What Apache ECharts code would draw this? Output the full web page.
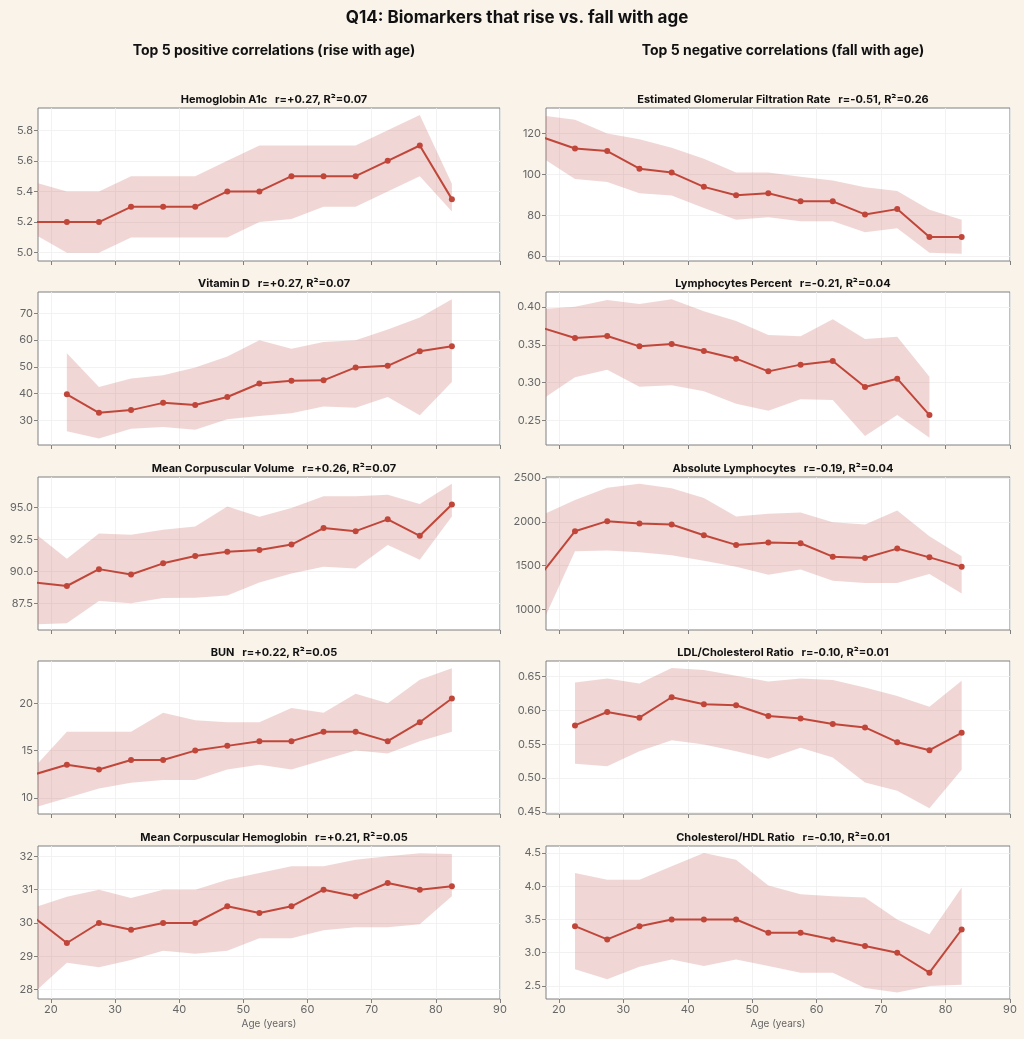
<!DOCTYPE html>
<html>
<head>
<meta charset="utf-8">
<script src="https://cdn.jsdelivr.net/npm/echarts@6/dist/echarts.min.js"></script>
<style>
  html, body { margin: 0; padding: 0; background: #f9f3ea; }
  #main { width: 1024px; height: 1039px; }
</style>
</head>
<body>
<div id="main"></div>
<script>
// age bin centres (first bin sits left of the axis and gets clipped)
const agesFull = [17.5, 22.5, 27.5, 32.5, 37.5, 42.5, 47.5, 52.5, 57.5, 62.5, 67.5, 72.5, 77.5, 82.5];
const agesFrom22 = [22.5, 27.5, 32.5, 37.5, 42.5, 47.5, 52.5, 57.5, 62.5, 67.5, 72.5, 77.5, 82.5];
const agesTo77 = [17.5, 22.5, 27.5, 32.5, 37.5, 42.5, 47.5, 52.5, 57.5, 62.5, 67.5, 72.5, 77.5];
const ageTicks = [20, 30, 40, 50, 60, 70, 80, 90];

// positive correlations
const hba1cMean = [5.2, 5.2, 5.2, 5.3, 5.3, 5.3, 5.4, 5.4, 5.5, 5.5, 5.5, 5.6, 5.7, 5.35];
const hba1cLow = [5.12, 5.0, 5.0, 5.1, 5.1, 5.1, 5.1, 5.2, 5.22, 5.3, 5.3, 5.4, 5.5, 5.27];
const hba1cHigh = [5.46, 5.4, 5.4, 5.5, 5.5, 5.5, 5.6, 5.7, 5.7, 5.7, 5.7, 5.8, 5.9, 5.45];

const vitdMean = [39.8, 32.9, 33.9, 36.6, 35.8, 38.8, 43.8, 44.8, 45.0, 49.8, 50.4, 55.8, 57.7];
const vitdLow = [26.0, 23.3, 27.0, 27.6, 26.6, 30.5, 31.7, 32.7, 35.2, 34.8, 38.8, 32.0, 44.4];
const vitdHigh = [55.1, 42.5, 45.7, 46.9, 49.8, 53.9, 59.9, 56.8, 59.3, 59.9, 63.9, 68.4, 75.2];

const mcvMean = [89.15, 88.88, 90.19, 89.77, 90.64, 91.21, 91.55, 91.68, 92.10, 93.38, 93.14, 94.06, 92.78, 95.21];
const mcvLow = [85.9, 85.98, 87.71, 87.53, 87.94, 87.97, 88.15, 89.15, 89.85, 90.37, 90.24, 92.07, 90.92, 94.29];
const mcvHigh = [92.98, 91.0, 92.96, 92.86, 93.25, 93.51, 95.05, 94.27, 94.95, 95.86, 95.86, 95.97, 95.26, 96.83];

const bunMean = [12.5, 13.5, 13.0, 14.0, 14.0, 15.0, 15.5, 16.0, 16.0, 17.0, 17.0, 16.0, 18.0, 20.5];
const bunLow = [9.0, 10.0, 11.0, 11.6, 11.9, 11.9, 13.0, 13.5, 13.0, 14.0, 15.0, 14.7, 16.0, 17.0];
const bunHigh = [13.3, 17.0, 17.0, 17.0, 19.0, 18.2, 18.0, 18.0, 19.5, 19.0, 21.0, 20.0, 22.5, 23.7];

const mchMean = [30.15, 29.4, 30.0, 29.8, 30.0, 30.0, 30.5, 30.3, 30.5, 31.0, 30.8, 31.2, 31.0, 31.1];
const mchLow = [27.93, 28.81, 28.67, 28.89, 29.17, 29.08, 29.17, 29.54, 29.54, 29.78, 29.87, 29.87, 29.96, 30.80];
const mchHigh = [30.47, 30.79, 31.0, 30.75, 31.0, 31.0, 31.3, 31.5, 31.7, 31.7, 31.9, 32.0, 32.09, 32.07];

// negative correlations
const egfrMean = [118.1, 112.7, 111.4, 102.8, 100.9, 93.9, 89.8, 90.8, 86.8, 86.8, 80.4, 83.0, 69.4, 69.4];
const egfrLow = [108.0, 97.8, 96.3, 90.8, 89.7, 83.5, 77.8, 79.0, 77.0, 77.0, 71.7, 73.6, 61.6, 61.1];
const egfrHigh = [128.8, 126.8, 120.0, 117.2, 113.0, 107.7, 100.9, 100.9, 98.9, 97.0, 93.7, 91.9, 82.7, 77.8];

const lymphPctMean = [0.372, 0.359, 0.3616, 0.3479, 0.351, 0.3418, 0.3316, 0.3148, 0.3237, 0.3285, 0.2941, 0.3051, 0.257];
const lymphPctLow = [0.2785, 0.3069, 0.3171, 0.2946, 0.2963, 0.2884, 0.2721, 0.2628, 0.2778, 0.2769, 0.2293, 0.2571, 0.2271];
const lymphPctHigh = [0.3975, 0.4004, 0.4092, 0.4039, 0.4101, 0.3942, 0.3815, 0.3629, 0.3612, 0.3837, 0.3576, 0.3607, 0.3078];

const lymphAbsMean = [1426, 1893, 2008, 1981, 1970, 1847, 1737, 1763, 1756, 1603, 1588, 1695, 1595, 1489];
const lymphAbsLow = [858, 1664, 1672, 1653, 1618, 1557, 1489, 1397, 1458, 1328, 1302, 1302, 1405, 1183];
const lymphAbsHigh = [2082, 2248, 2389, 2435, 2382, 2271, 2061, 2092, 2107, 1996, 1970, 2130, 1836, 1607];

const ldlRatioMean = [0.5777, 0.5975, 0.5891, 0.6193, 0.6089, 0.6074, 0.5916, 0.5881, 0.5797, 0.5748, 0.553, 0.5411, 0.5668];
const ldlRatioLow = [0.5213, 0.5173, 0.5396, 0.5559, 0.5495, 0.5396, 0.5287, 0.5446, 0.5302, 0.4936, 0.4812, 0.4554, 0.5124];
const ldlRatioHigh = [0.6411, 0.647, 0.6396, 0.6624, 0.6594, 0.651, 0.6426, 0.647, 0.6446, 0.6337, 0.6213, 0.6054, 0.6436];

const hdlRatioMean = [3.4, 3.2, 3.4, 3.5, 3.5, 3.5, 3.3, 3.3, 3.2, 3.1, 3.0, 2.7, 3.35];
const hdlRatioLow = [2.75, 2.6, 2.79, 2.9, 2.8, 2.9, 2.8, 2.7, 2.7, 2.47, 2.4, 2.5, 2.52];
const hdlRatioHigh = [4.2, 4.1, 4.1, 4.3, 4.5, 4.4, 4.01, 3.88, 3.85, 3.83, 3.5, 3.28, 3.98];

// y tick labels per panel
const hba1cTicks = [5.0, 5.2, 5.4, 5.6, 5.8];
const vitdTicks = [30, 40, 50, 60, 70];
const mcvTicks = [87.5, 90.0, 92.5, 95.0];
const bunTicks = [10, 15, 20];
const mchTicks = [28, 29, 30, 31, 32];
const egfrTicks = [60, 80, 100, 120];
const lymphPctTicks = [0.25, 0.30, 0.35, 0.40];
const lymphAbsTicks = [1000, 1500, 2000, 2500];
const ldlRatioTicks = [0.45, 0.50, 0.55, 0.60, 0.65];
const hdlRatioTicks = [2.5, 3.0, 3.5, 4.0, 4.5];

const panels = [
  { title: "Hemoglobin A1c   r=+0.27, R\u00b2=0.07", x: agesFull, mean: hba1cMean, low: hba1cLow, high: hba1cHigh, ticks: hba1cTicks, dec: 1, min: 4.946, max: 5.945 },
  { title: "Vitamin D   r=+0.27, R\u00b2=0.07", x: agesFrom22, mean: vitdMean, low: vitdLow, high: vitdHigh, ticks: vitdTicks, dec: 0, min: 20.9, max: 77.9 },
  { title: "Mean Corpuscular Volume   r=+0.26, R\u00b2=0.07", x: agesFull, mean: mcvMean, low: mcvLow, high: mcvHigh, ticks: mcvTicks, dec: 1, min: 85.46, max: 97.35 },
  { title: "BUN   r=+0.22, R\u00b2=0.05", x: agesFull, mean: bunMean, low: bunLow, high: bunHigh, ticks: bunTicks, dec: 0, min: 8.3, max: 24.47 },
  { title: "Mean Corpuscular Hemoglobin   r=+0.21, R\u00b2=0.05", x: agesFull, mean: mchMean, low: mchLow, high: mchHigh, ticks: mchTicks, dec: 0, min: 27.72, max: 32.31 },
  { title: "Estimated Glomerular Filtration Rate   r=-0.51, R\u00b2=0.26", x: agesFull, mean: egfrMean, low: egfrLow, high: egfrHigh, ticks: egfrTicks, dec: 0, min: 57.6, max: 132.5 },
  { title: "Lymphocytes Percent   r=-0.21, R\u00b2=0.04", x: agesTo77, mean: lymphPctMean, low: lymphPctLow, high: lymphPctHigh, ticks: lymphPctTicks, dec: 2, min: 0.2174, max: 0.4198 },
  { title: "Absolute Lymphocytes   r=-0.19, R\u00b2=0.04", x: agesFull, mean: lymphAbsMean, low: lymphAbsLow, high: lymphAbsHigh, ticks: lymphAbsTicks, dec: 0, min: 767, max: 2511 },
  { title: "LDL/Cholesterol Ratio   r=-0.10, R\u00b2=0.01", x: agesFrom22, mean: ldlRatioMean, low: ldlRatioLow, high: ldlRatioHigh, ticks: ldlRatioTicks, dec: 2, min: 0.447, max: 0.6728 },
  { title: "Cholesterol/HDL Ratio   r=-0.10, R\u00b2=0.01", x: agesFrom22, mean: hdlRatioMean, low: hdlRatioLow, high: hdlRatioHigh, ticks: hdlRatioTicks, dec: 1, min: 2.304, max: 4.606 }
];

const FONT = "Inter, 'DejaVu Sans', sans-serif";
const RED = "#c0463a";
const BAND = "rgba(200, 110, 105, 0.28)";
const colLeft = [38, 546];
const colWidth = [462, 464];
const rowTop = [108, 292, 477, 661, 846];
const plotH = 153;

const chartDom = document.getElementById("main");
const myChart = echarts.init(chartDom, null, { renderer: "canvas" });

const titles = [
  { text: "Q14: Biomarkers that rise vs. fall with age", left: 512, top: 4, textAlign: "center",
    textStyle: { fontFamily: FONT, fontSize: 17, fontWeight: "bold", color: "#111" } },
  { text: "Top 5 positive correlations (rise with age)", left: 269, top: 39, textAlign: "center",
    textStyle: { fontFamily: FONT, fontSize: 14, fontWeight: "bold", color: "#111" } },
  { text: "Top 5 negative correlations (fall with age)", left: 778, top: 39, textAlign: "center",
    textStyle: { fontFamily: FONT, fontSize: 14, fontWeight: "bold", color: "#111" } }
];
const grids = [], xAxes = [], yAxes = [], series = [];

panels.forEach((p, i) => {
  const col = i < 5 ? 0 : 1;
  const row = i % 5;
  const bottomRow = row === 4;
  const cx = colLeft[col] + colWidth[col] / 2;

  titles.push({
    text: p.title, left: cx, top: rowTop[row] - 19, textAlign: "center",
    textStyle: { fontFamily: FONT, fontSize: 11, fontWeight: "bold", color: "#111" }
  });

  grids.push({
    left: colLeft[col], top: rowTop[row], width: colWidth[col], height: plotH,
    show: true, backgroundColor: "#fff", borderColor: "#808080", borderWidth: 1
  });

  xAxes.push({
    type: "value", gridIndex: i, min: 18, max: 90,
    name: bottomRow ? "Age (years)" : "",
    nameLocation: "middle", nameGap: 20,
    nameTextStyle: { fontFamily: FONT, fontSize: 10, color: "#666" },
    axisLine: { show: false },
    axisTick: { show: true, length: 4, customValues: ageTicks, lineStyle: { color: "#808080" } },
    axisLabel: { show: bottomRow, customValues: ageTicks, fontFamily: FONT, fontSize: 11, color: "#666", margin: 5 },
    splitLine: { show: true, lineStyle: { color: "#efefef", width: 0.8 } }
  });

  yAxes.push({
    type: "value", gridIndex: i, min: p.min, max: p.max,
    axisLine: { show: false },
    axisTick: { show: true, length: 4, customValues: p.ticks, lineStyle: { color: "#808080" } },
    axisLabel: {
      customValues: p.ticks, fontFamily: FONT, fontSize: 11, color: "#666", margin: 5,
      formatter: v => Number(v).toFixed(p.dec)
    },
    splitLine: { show: true, lineStyle: { color: "#efefef", width: 0.8 } }
  });

  // shaded band between low and high, one polygon through the axis scales
  series.push({
    type: "custom", xAxisIndex: i, yAxisIndex: i, clip: true, silent: true, z: 1,
    data: p.x.map((a, k) => [a, p.low[k], p.high[k]]),
    renderItem: (params, api) => {
      if (params.dataIndex !== 0) return null;
      const upper = p.x.map((a, k) => api.coord([a, p.high[k]]));
      const lower = p.x.map((a, k) => api.coord([a, p.low[k]])).reverse();
      return {
        type: "polygon",
        shape: { points: upper.concat(lower) },
        style: { fill: BAND }
      };
    }
  });
  series.push({
    type: "line", xAxisIndex: i, yAxisIndex: i,
    data: p.x.map((a, k) => [a, p.mean[k]]),
    symbol: "circle", symbolSize: 6, showAllSymbol: true, clip: true,
    itemStyle: { color: RED }, lineStyle: { color: RED, width: 2 }, z: 3
  });
});

const option = {
  backgroundColor: "#f9f3ea",
  animation: false,
  title: titles,
  grid: grids,
  xAxis: xAxes,
  yAxis: yAxes,
  series: series
};

option && myChart.setOption(option);
</script>
</body>
</html>
